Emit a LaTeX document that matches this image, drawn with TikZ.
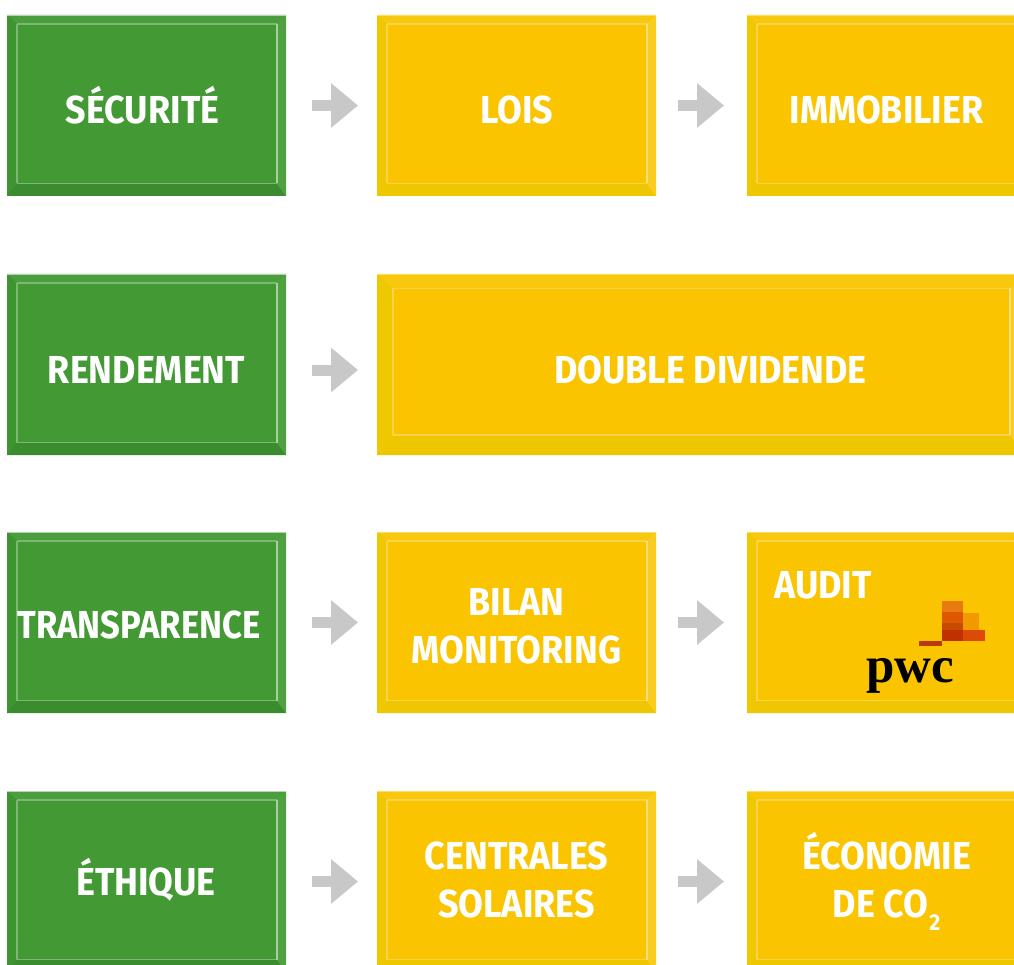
\documentclass[tikz,border=0pt]{standalone}
\usepackage{fontspec}
\setmainfont{Fira Sans}[FakeStretch=0.92]
\newfontfamily\pwcfont{Liberation Serif}
\usetikzlibrary{arrows.meta,calc}
\definecolor{gMain}{HTML}{439A35}
\definecolor{gTop}{HTML}{4A9E3D}
\definecolor{gLeft}{HTML}{3F9432}
\definecolor{gBot}{HTML}{3B8C2E}
\definecolor{gRight}{HTML}{4FA142}
\definecolor{gLine}{HTML}{7DB873}
\definecolor{gLineR}{HTML}{A6D09E}
\definecolor{gEdge}{HTML}{B5D4AF}
\definecolor{yMain}{HTML}{FAC500}
\definecolor{yTop}{HTML}{F8C80E}
\definecolor{yLeft}{HTML}{EEC800}
\definecolor{yBot}{HTML}{EFC700}
\definecolor{yRight}{HTML}{FBCC20}
\definecolor{yLine}{HTML}{FBD24A}
\definecolor{yLineR}{HTML}{FDDF80}
\definecolor{yEdge}{HTML}{FBDD6A}
\definecolor{arrowGrey}{HTML}{C8C8C8}
\definecolor{pwcA}{HTML}{E87A10}
\definecolor{pwcB}{HTML}{DD5800}
\definecolor{pwcC}{HTML}{C84A00}
\definecolor{pwcD}{HTML}{F09A00}
\definecolor{pwcE}{HTML}{C03000}
\definecolor{pwcF}{HTML}{DC4A05}
\definecolor{pwcG}{HTML}{B83A10}
\tikzset{
  x=1pt,y=-1pt,
  boxbase/.style={minimum width=#1,minimum height=181pt,inner sep=0pt,outer sep=0pt,anchor=north west},
  boxlabel/.style={text=white,font=\bfseries\fontsize{39}{48}\selectfont,align=center,inner sep=0pt,anchor=base},
  flow/.style={arrowGrey,line width=11pt,-{Triangle[length=27pt,width=43pt]},shorten <=26pt,shorten >=19pt},
  flowb/.style={arrowGrey,line width=11pt,-{Triangle[length=27pt,width=43pt]},shorten <=22pt,shorten >=23pt},
}
% name, x, y, width, inset, colour prefix
\newcommand{\bevelbox}[6]{%
  \node[boxbase=#4,fill=#6Main] (#1) at (#2,#3) {};
  \coordinate (#1nw) at ($(#1.north west)+(#5,0.9*#5)$);
  \coordinate (#1ne) at ($(#1.north east)+(-0.95*#5,0.9*#5)$);
  \coordinate (#1se) at ($(#1.south east)+(-0.95*#5,-1.25*#5)$);
  \coordinate (#1sw) at ($(#1.south west)+(#5,-1.25*#5)$);
  \fill[#6Top] (#1.north west) -- (#1.north east) -- (#1ne) -- (#1nw) -- cycle;
  \fill[#6Left] (#1.north west) -- (#1.south west) -- (#1sw) -- (#1nw) -- cycle;
  \fill[#6Bot] (#1.south west) -- (#1.south east) -- (#1se) -- (#1sw) -- cycle;
  \fill[#6Right] (#1.north east) -- (#1.south east) -- (#1se) -- (#1ne) -- cycle;
  \draw[#6Line,line width=1.6pt] (#1nw) -- (#1ne) (#1nw) -- (#1sw) (#1sw) -- (#1se);
  \draw[#6LineR,line width=2pt] (#1ne) -- (#1se);
  \draw[#6Edge,line width=0.8pt] (#1.north west) -- (#1.north east);
}
\begin{document}
\begin{tikzpicture}
\useasboundingbox (0,0) rectangle (1014,965);
\fill[white] (0,0) rectangle (1014,965);
\clip (0,0) rectangle (1014,965);
% green column
\bevelbox{g1}{7}{15}{279}{10}{g}
\bevelbox{g2}{7}{274}{279}{10}{g}
\bevelbox{g3}{7}{532}{279}{10}{g}
\bevelbox{g4}{7}{791}{279}{10}{g}
% yellow boxes
\bevelbox{y1a}{377}{15}{279}{10}{y}
\bevelbox{y1b}{747}{15}{279}{10}{y}
\bevelbox{y2}{377}{274}{648}{16}{y}
\bevelbox{y3a}{377}{532}{279}{10}{y}
\bevelbox{y3b}{747}{532}{279}{10}{y}
\bevelbox{y4a}{377}{791}{279}{10}{y}
\bevelbox{y4b}{747}{791}{279}{10}{y}
% labels
\node[boxlabel] (t1) at (142.500,124) {SÉCURITÉ};
\node[boxlabel] (t2) at (517,124) {LOIS};
\node[boxlabel] (t3) at (886.500,124) {IMMOBILIER};
\node[boxlabel] (t4) at (146.500,383) {RENDEMENT};
\node[boxlabel] (t5) at (710.500,383) {DOUBLE DIVIDENDE};
\node[boxlabel] (t6) at (139,638) {\scalebox{0.965}[1]{TRANSPARENCE}};
\node[boxlabel] (t7) at (516.500,663) {BILAN\\MONITORING};
\node[boxlabel] (t8) at (823,598) {AUDIT};
\node[boxlabel] (t9) at (146,895) {ÉTHIQUE};
\node[boxlabel] (t10) at (516.500,917) {CENTRALES\\SOLAIRES};
\node[boxlabel] (t11) at (886.500,917) {ÉCONOMIE\\DE CO\kern1pt\raisebox{-13pt}{\fontsize{23}{23}\selectfont 2}};
% connectors
\draw[flow] (g1.east) -- (y1a.west);
\draw[flowb] (y1a.east) -- (y1b.west);
\draw[flow] ([yshift=-5.500pt]g2.east) -- ([yshift=-5.500pt]y2.west);
\draw[flow] (g3.east) -- (y3a.west);
\draw[flowb] (y3a.east) -- (y3b.west);
\draw[flow] (g4.east) -- (y4a.west);
\draw[flowb] (y4a.east) -- (y4b.west);
% PwC mark
\fill[pwcA] (942,601) rectangle (963,612);
\fill[pwcB] (942,612) rectangle (963,623);
\fill[pwcC] (942,623) rectangle (963,630);
\fill[pwcD] (963,613) rectangle (979,630);
\fill[pwcE] (942,630) rectangle (963,641);
\fill[pwcF] (963,630) rectangle (985,641);
\fill[pwcG] (919,641) rectangle (942,646);
\node[font=\pwcfont\bfseries\fontsize{51}{51}\selectfont,inner sep=0pt,text=black,anchor=base] (pwc) at (910.500,682) {pwc};
\end{tikzpicture}
\end{document}
